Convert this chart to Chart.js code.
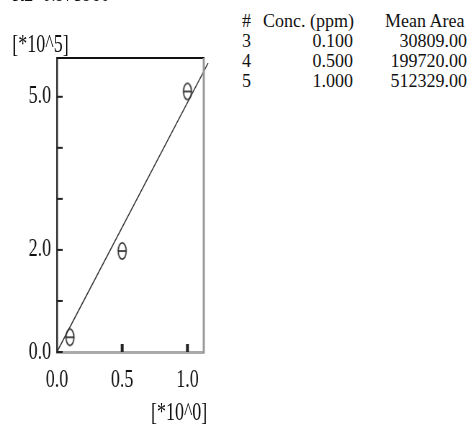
<!DOCTYPE html>
<html lang="en">
<head>
<meta charset="UTF-8">
<title>Calibration curve</title>
<script src="https://cdn.jsdelivr.net/npm/chart.js"></script>
<style>
    body {
        margin: 0;
        width: 472px;
        height: 427px;
        overflow: hidden;
        background: #fff;
        font-family: "Liberation Serif", "Times New Roman", serif;
        color: #111;
    }
    #chartWrap {
        position: absolute;
        left: 0;
        top: 0;
        width: 320px;
        height: 427px;
        transform: scaleX(0.72);
        transform-origin: 0 0;
    }
    #chartWrap canvas {
        position: absolute;
        left: 0;
        top: 0;
    }
    .lbl {
        position: absolute;
        font-size: 25px;
        line-height: 25px;
        white-space: nowrap;
    }
    #table .cell {
        position: absolute;
        font-size: 18px;
        line-height: 18px;
        white-space: nowrap;
    }
</style>
</head>
<body>
<div id="chartWrap">
    <canvas id="calChart" width="320" height="427"></canvas>
    <div class="lbl" style="left:17px; top:-20px;">R2&nbsp; 0.975980</div>
    <div class="lbl" style="left:17px; top:31px;">[*10^5]</div>
    <div class="lbl" style="right:32px; top:399px;">[*10^0]</div>
</div>
<div id="table"></div>

<script>
    // calibration levels
    const levelIds = [3, 4, 5];
    const concPpm = [0.100, 0.500, 1.000];
    const meanArea = [30809.00, 199720.00, 512329.00];

    // regression line end points (x in ppm, y in 10^5)
    const fitX = [0, 1.158];
    const fitY = [0, 5.66];

    const xTicks = [0, 0.5, 1.0];
    const yTicks = [0, 1, 2, 3, 4, 5];
    const yTickLabels = ['0.0', '', '2.0', '', '', '5.0'];
    const xMax = 1.125;
    const yMax = 5.76;

    // table on the right
    const table = document.getElementById('table');
    function cell(text, left, right, baseline) {
        const d = document.createElement('div');
        d.className = 'cell';
        d.textContent = text;
        d.style.top = (baseline - 15) + 'px';
        if (left !== null) d.style.left = left + 'px';
        if (right !== null) d.style.right = (472 - right) + 'px';
        table.appendChild(d);
    }
    cell('#', 242, null, 27);
    cell('Conc. (ppm)', 263, null, 27);
    cell('Mean Area', 385, null, 27);
    levelIds.forEach((id, i) => {
        const base = 47 + i * 20;
        cell(String(id), 242, null, base);
        cell(concPpm[i].toFixed(3), null, 353, base);
        cell(meanArea[i].toFixed(2), null, 467, base);
    });

    // theta marker
    const theta = document.createElement('canvas');
    theta.width = 16;
    theta.height = 22;
    const tctx = theta.getContext('2d');
    tctx.strokeStyle = '#222';
    tctx.lineWidth = 1.6;
    tctx.beginPath();
    tctx.ellipse(8, 12, 5.6, 8.2, 0, 0, Math.PI * 2);
    tctx.stroke();
    tctx.beginPath();
    tctx.moveTo(2.5, 12);
    tctx.lineTo(13.5, 12);
    tctx.stroke();

    const frame = {
        id: 'frame',
        afterDraw(chart) {
            const ctx = chart.ctx;
            const a = chart.chartArea;
            const xs = chart.scales.x, ys = chart.scales.y;
            ctx.save();
            ctx.strokeStyle = '#111';
            ctx.lineWidth = 2;
            ctx.beginPath();
            ctx.moveTo(a.left, a.top);
            ctx.lineTo(a.right + 1, a.top);
            ctx.stroke();
            ctx.strokeStyle = '#999';
            ctx.lineWidth = 3;
            ctx.beginPath();
            ctx.moveTo(a.right, a.top);
            ctx.lineTo(a.right, a.bottom + 1);
            ctx.stroke();
            ctx.strokeStyle = '#222';
            ctx.lineWidth = 2;
            for (const v of yTicks) {
                const py = ys.getPixelForValue(v);
                ctx.beginPath();
                ctx.moveTo(a.left, py);
                ctx.lineTo(a.left + 8, py);
                ctx.stroke();
            }
            ctx.fillStyle = '#222';
            for (const v of xTicks.slice(1)) {
                const px = xs.getPixelForValue(v);
                ctx.fillRect(px - 2, a.bottom - 8, 4, 8);
            }
            ctx.restore();
        }
    };

    const tickFont = { family: 'Liberation Serif', size: 25 };

    new Chart(document.getElementById('calChart'), {
        data: {
            datasets: [{
                type: 'line',
                data: fitX.map((x, i) => ({ x: x, y: fitY[i] })),
                borderColor: '#333',
                borderWidth: 1.4,
                pointRadius: 0,
                clip: false
            }, {
                type: 'scatter',
                data: concPpm.map((c, i) => ({ x: c, y: meanArea[i] / 1e5 })),
                pointStyle: theta,
                pointRadius: 8
            }]
        },
        options: {
            responsive: false,
            animation: false,
            layout: { padding: { left: 0, top: 58, right: 37, bottom: 0 } },
            plugins: { legend: { display: false }, tooltip: { enabled: false } },
            scales: {
                x: {
                    type: 'linear',
                    min: 0,
                    max: xMax,
                    afterBuildTicks: s => { s.ticks = xTicks.map(v => ({ value: v })); },
                    afterFit: s => { s.height = 75; },
                    ticks: {
                        font: tickFont,
                        color: '#111',
                        padding: 13,
                        maxRotation: 0,
                        callback: v => v.toFixed(1)
                    },
                    grid: { drawOnChartArea: false, drawTicks: false },
                    border: { color: '#aaa', width: 3 }
                },
                y: {
                    type: 'linear',
                    min: 0,
                    max: yMax,
                    afterBuildTicks: s => { s.ticks = yTicks.map(v => ({ value: v })); },
                    afterFit: s => { s.width = 79; },
                    ticks: {
                        font: tickFont,
                        color: '#111',
                        padding: 8,
                        callback: (v, i) => yTickLabels[i]
                    },
                    grid: { drawOnChartArea: false, drawTicks: false },
                    border: { color: '#333', width: 2.5 }
                }
            }
        },
        plugins: [frame]
    });
</script>
</body>
</html>
